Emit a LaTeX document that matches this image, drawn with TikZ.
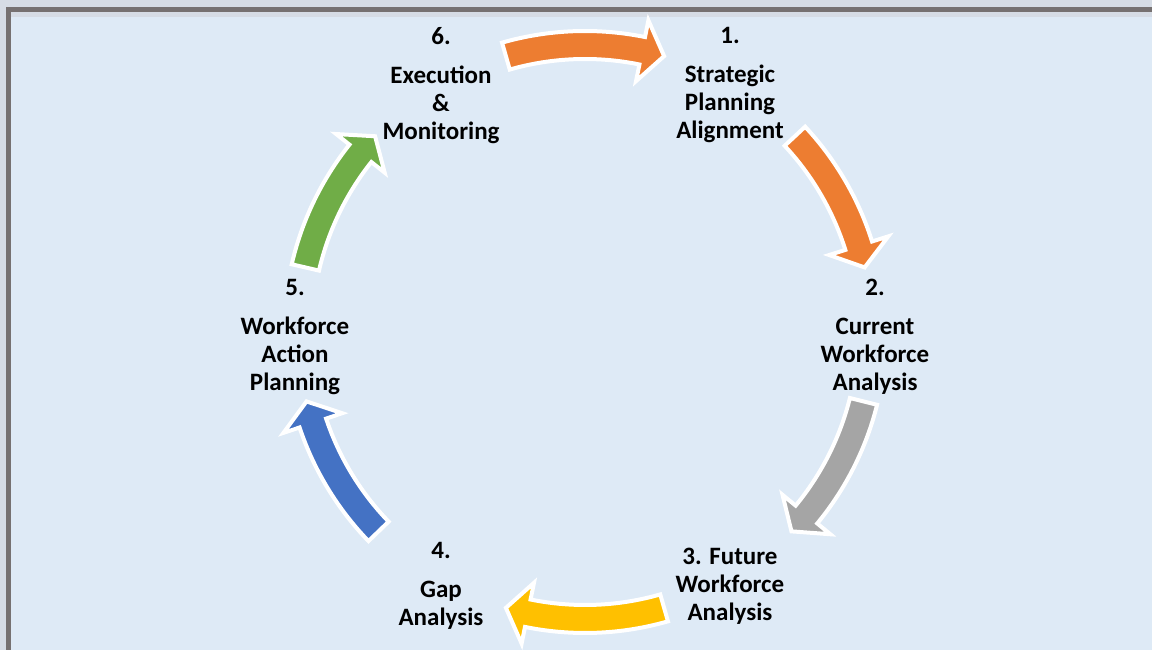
\documentclass[tikz,border=0pt]{standalone}
\usepackage{fontspec}
\setmainfont{Carlito}
\definecolor{outerbg}{HTML}{D6DCE5}
\definecolor{panelbg}{HTML}{DEEAF6}
\definecolor{framegray}{HTML}{767171}
\definecolor{cycorange}{HTML}{ED7D31}
\definecolor{cycgray}{HTML}{A5A5A5}
\definecolor{cycyellow}{HTML}{FFC000}
\definecolor{cycblue}{HTML}{4472C4}
\definecolor{cycgreen}{HTML}{70AD47}
\tikzset{
  steplabel/.style={font=\bfseries\fontsize{25}{28}\selectfont, align=center, inner sep=0pt, anchor=north},
  cyclefill/.style={fill=#1, draw=white, line width=4pt, line join=miter}
}
% curved arrow on the ring: colour, tail angle, tip angle
\newcommand\cyclearrow[3]{%
  \pgfmathsetmacro\hb{#3+4.5}
  \path[cyclefill=#1] (#2:301) arc[start angle=#2, end angle=\hb, radius=301]
    -- (\hb:318) -- (#3:287) -- (\hb:256) -- (\hb:273)
    arc[start angle=\hb, end angle=#2, radius=273] -- cycle;
}
\begin{document}
\begin{tikzpicture}[x=1pt,y=1pt]
  \useasboundingbox (0,0) rectangle (1152,650);
  \fill[outerbg] (0,0) rectangle (1152,650);
  \fill[panelbg] (11,0) rectangle (1152,633);
  \fill[framegray] (6,0) rectangle (11,643);
  \fill[framegray] (6,638) rectangle (1152,643);
  % ring of arrows
  \begin{scope}[shift={(585,318)}]
    \cyclearrow{cycorange}{106}{74}
    \cyclearrow{cycorange}{43}{13}
    \cyclearrow{cycgray}{-14}{-44}
    \cyclearrow{cycyellow}{-74}{-106}
    \cyclearrow{cycblue}{-136}{-166}
    \cyclearrow{cycgreen}{167}{137}
  \end{scope}
  % step labels
  \node[steplabel] (s1) at (730,623) {1.\\[11pt]Strategic\\Planning\\Alignment};
  \node[steplabel] (s2) at (875,371) {2.\\[11pt]Current\\Workforce\\Analysis};
  \node[steplabel] (s3) at (730,102) {3. Future\\Workforce\\Analysis};
  \node[steplabel] (s4) at (441,108) {4.\\[11pt]Gap\\Analysis};
  \node[steplabel] (s5) at (295,371) {5.\\[11pt]Workforce\\Action\\Planning};
  \node[steplabel] (s6) at (441,623) {6.\\[11pt]Execution\\\&\\Monitoring};
\end{tikzpicture}
\end{document}
